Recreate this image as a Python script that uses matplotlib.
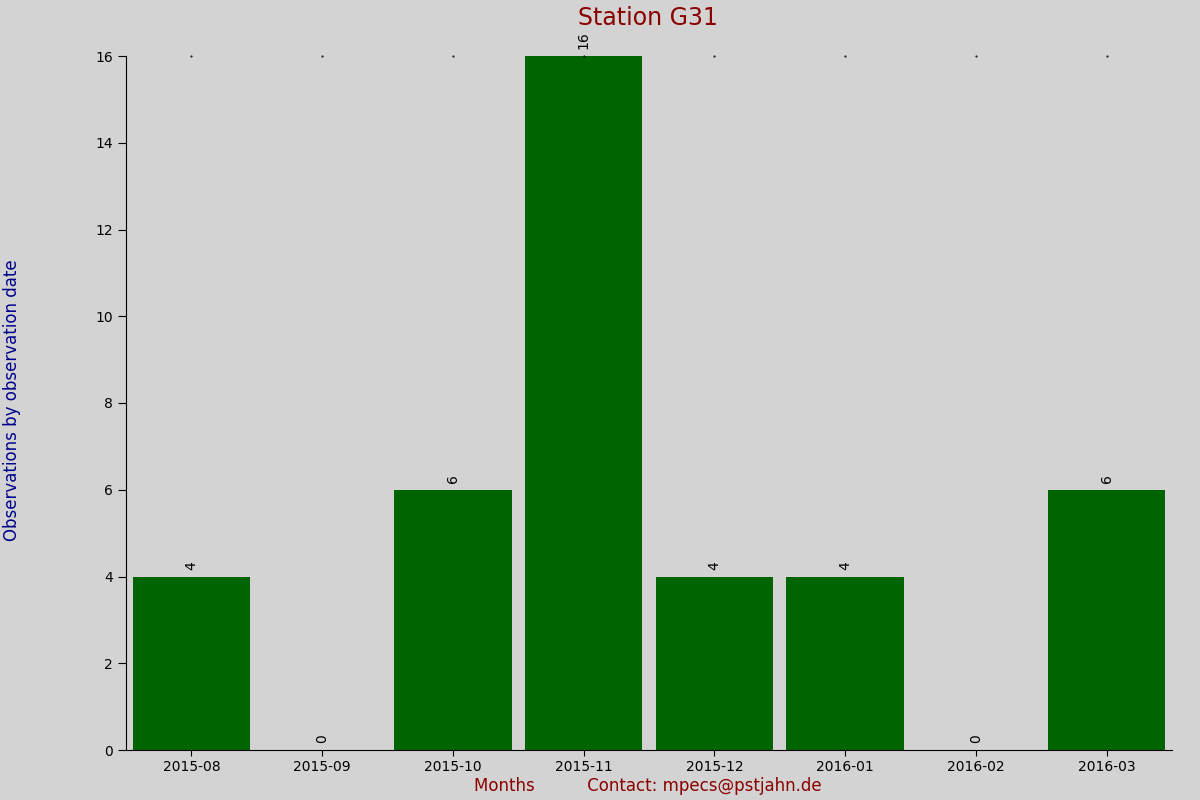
import matplotlib
matplotlib.use("Agg")
import matplotlib.pyplot as plt

months = ["2015-08","2015-09","2015-10","2015-11","2015-12","2016-01","2016-02","2016-03"]
counts = [4,0,6,16,4,4,0,6]

fig = plt.figure(figsize=(12,8), dpi=100, facecolor="#d3d3d3")
ax = fig.add_axes([126/1200, 50/800, (1172-126)/1200, (750-56)/800])
ax.set_facecolor("#d3d3d3")
x = range(len(months))
ax.bar(x, counts, width=0.9, color="#006400")
for i, v in zip(x, counts):
    ax.text(i, v + 0.15, str(v), rotation=90, ha="center", va="bottom", fontsize=10, color="black")
ax.set_xlim(-0.5, 7.5)
ax.set_ylim(0, 16)
ax.set_xticks(list(x))
ax.set_xticklabels(months, fontsize=10)
ax.set_yticks(range(0, 17, 2))
ax.tick_params(axis="y", direction="out", length=6, labelsize=10)
ax.tick_params(axis="x", direction="out", length=4)
for s in ["top", "right"]:
    ax.spines[s].set_visible(False)
for i in x:
    ax.plot(i, 16, marker=".", markersize=1, color="black", clip_on=False)
fig.text(0.54, 0.977, "Station G31", ha="center", va="center", fontsize=17, color="#8b0000")
fig.text(0.54, 0.018, "Months          Contact: mpecs@pstjahn.de", ha="center", va="center", fontsize=12, color="#8b0000")
fig.text(0.01, 0.5, "Observations by observation date", rotation=90, ha="center", va="center", fontsize=12, color="#00008b")
fig.savefig("out.png", dpi=100, facecolor=fig.get_facecolor())
